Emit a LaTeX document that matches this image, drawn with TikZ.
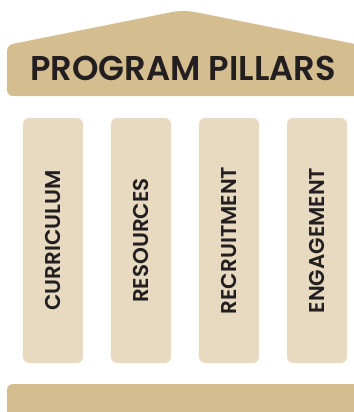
\documentclass[tikz,border=0pt]{standalone}
\usepackage{fontspec}
\setmainfont{Poppins SemiBold}
\newfontfamily\pillarfont{Poppins SemiBold}
\newfontfamily\titlefont{Poppins SemiBold}[FakeStretch=0.98]
\usepackage{tikz}
\definecolor{rooftan}{HTML}{D4BE90}
\definecolor{pillarsand}{HTML}{E8DAC0}
\definecolor{inkdark}{HTML}{231F20}
\tikzstyle{pillarbox} = [rectangle, rounded corners=6bp, fill=pillarsand, rotate=90, minimum width=245bp, minimum height=60bp, inner sep=0pt, text=inkdark, font=\pillarfont\fontsize{21.5}{22}\selectfont]
\tikzstyle{titletext} = [anchor=base, inner sep=0pt, text=inkdark, font=\titlefont\fontsize{34.5}{35}\selectfont]

\begin{document}
\begin{tikzpicture}[x=1bp, y=-1bp]
        \useasboundingbox (0,0) rectangle (354,412);
        \clip (0,0) rectangle (354,412);
        % roof
        \fill [rooftan, rounded corners=6bp] (7,96) -- (7,45) -- (177,11) -- (190,11) -- (360,45) -- (360,96) -- cycle;
        \node [titletext] (title) at (183,80) {PROGRAM PILLARS};
        % pillars
        \node [pillarbox] (curriculum) at (53,240.5) {CURRICULUM};
        \node [pillarbox] (resources) at (141,240.5) {RESOURCES};
        \node [pillarbox] (recruitment) at (229,240.5) {RECRUITMENT};
        \node [pillarbox] (engagement) at (317,240.5) {ENGAGEMENT};
        % base
        \fill [rooftan, rounded corners=6bp] (7,430) -- (7,384) -- (370,384) -- (370,430) -- cycle;
    \end{tikzpicture}
\end{document}
